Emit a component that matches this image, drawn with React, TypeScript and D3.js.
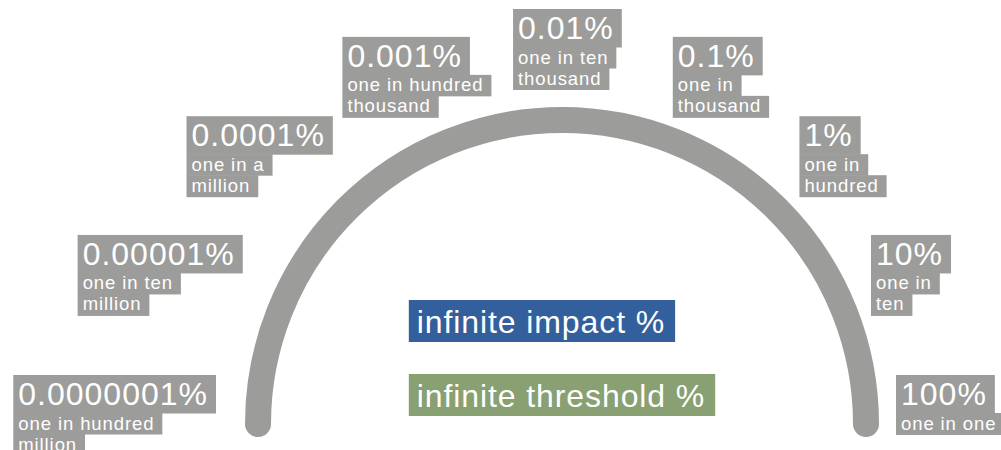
import React, { useEffect, useRef } from "react";
import * as d3 from "d3";

// ---- data ----
const percentLabels = ["0.0000001%", "0.00001%", "0.0001%", "0.001%", "0.01%", "0.1%", "1%", "10%", "100%"];
const phraseLines = [
  ["one in hundred", "million"],
  ["one in ten", "million"],
  ["one in a", "million"],
  ["one in hundred", "thousand"],
  ["one in ten", "thousand"],
  ["one in", "thousand"],
  ["one in", "hundred"],
  ["one in", "ten"],
  ["one in one"],
];
const legendItems = ["infinite impact %", "infinite threshold %"];
const legendColors = ["#33609c", "#88a072"];

// ---- layout ----
const W = 1001;
const H = 450;
const CX = 562;
const CY = 424;
const R = 304;
const GRAY = "#9c9c9a";
const FONT = "'Liberation Sans', Arial, Helvetica, sans-serif";

export default function App() {
  const ref = useRef<SVGSVGElement | null>(null);

  useEffect(() => {
    const svg = d3.select(ref.current);
    svg.selectAll("*").remove();

    // arc
    const p = d3.path();
    p.arc(CX, CY, R, Math.PI, 2 * Math.PI, false);
    svg
      .append("path")
      .attr("d", p.toString())
      .attr("fill", "none")
      .attr("stroke", GRAY)
      .attr("stroke-width", 26)
      .attr("stroke-linecap", "round");

    const angle = d3.scalePoint<string>().domain(percentLabels).range([Math.PI, 0]);

    percentLabels.forEach((lab, i) => {
      const lines = [lab, ...phraseLines[i]];
      const g = svg.append("g");
      const rectLayer = g.append("g");
      const textLayer = g.append("g");
      let y = 0;
      const widths: number[] = [];
      lines.forEach((ln, j) => {
        const big = j === 0;
        const lh = big ? 38 : 21;
        const t = textLayer
          .append("text")
          .attr("x", 5)
          .attr("y", y + (big ? 30 : 16.5))
          .attr("fill", "#ffffff")
          .attr("font-family", FONT)
          .attr("font-size", big ? 32 : 18.5)
          .attr("letter-spacing", big ? 1.0 : 0.9)
          .text(ln);
        const len = (t.node() as SVGTextElement).getComputedTextLength();
        const w = len + 13;
        widths.push(w);
        rectLayer
          .append("rect")
          .attr("x", 0)
          .attr("y", y)
          .attr("width", w)
          .attr("height", lh + (j === lines.length - 1 ? 1 : 0.5))
          .attr("fill", GRAY);
        y += lh;
      });
      const a = angle(lab) as number;
      const c = Math.cos(a);
      const s = Math.sin(a);
      const fx = Math.max(0, Math.min(1, 0.45 - 0.64 * c));
      const rh = 340 - 6 * c;
      const left = CX + rh * c - fx * widths[0];
      const top = CY - 49 - 366 * s;
      g.attr("transform", `translate(${left},${top})`);
    });

    // legend
    const lg = svg.append("g");
    const lw: number[] = [];
    legendItems.forEach((txt, i) => {
      const g = lg.append("g").attr("transform", `translate(0,${i * 74})`);
      const r = g.append("rect").attr("height", 42).attr("fill", legendColors[i]);
      const t = g
        .append("text")
        .attr("x", 8)
        .attr("y", 33)
        .attr("fill", "#ffffff")
        .attr("font-family", FONT)
        .attr("font-size", 32)
        .attr("letter-spacing", 0.9)
        .text(txt);
      const len = (t.node() as SVGTextElement).getComputedTextLength();
      r.attr("width", len + 18);
      lw.push(len + 18);
    });
    const maxW = d3.max(lw) as number;
    lg.attr("transform", `translate(${CX - maxW / 2},${CY - 124})`);
  }, []);

  return (
    <svg
      ref={ref}
      width={W}
      height={H}
      style={{ position: "absolute", left: 0, top: 0, background: "#ffffff" }}
    />
  );
}
